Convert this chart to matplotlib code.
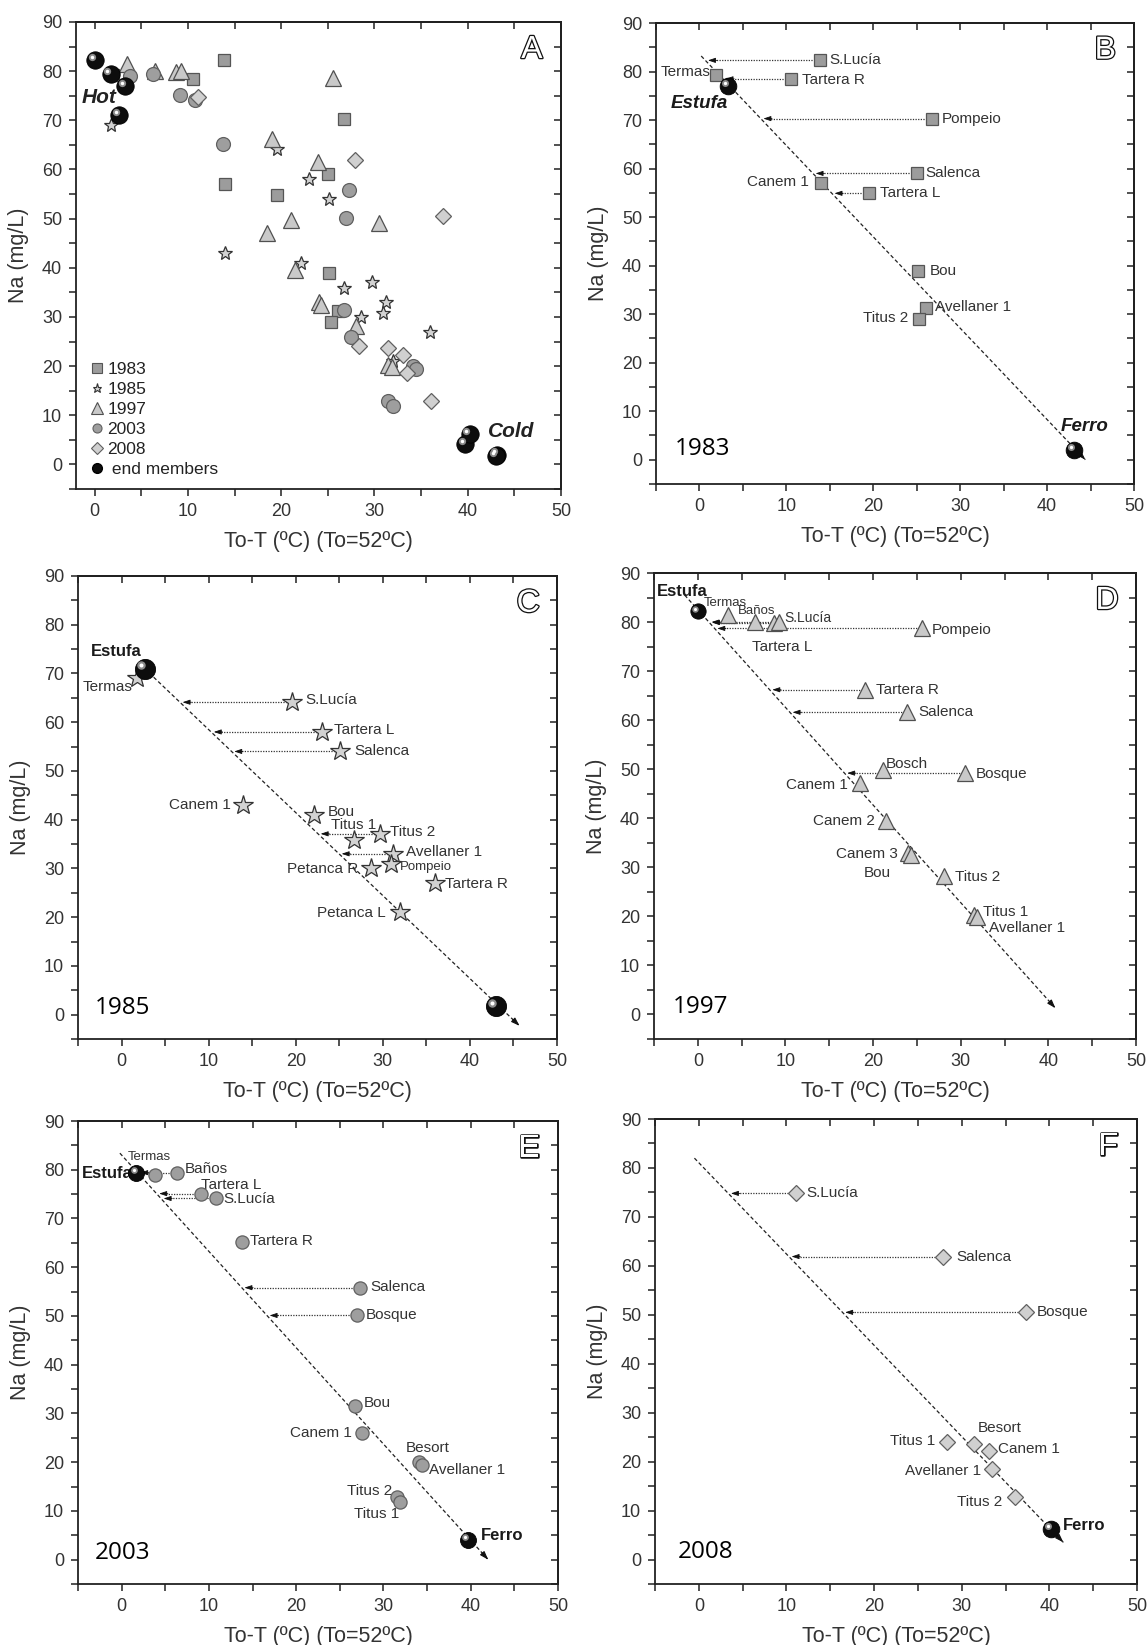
import numpy as np
import matplotlib
matplotlib.use('Agg')
import matplotlib.pyplot as plt
from matplotlib.lines import Line2D
from matplotlib.ticker import MultipleLocator
import matplotlib.patheffects as pe
from matplotlib.transforms import offset_copy

plt.rcParams['font.family'] = ['Liberation Sans', 'DejaVu Sans']

# ---------------- DATA ----------------
# 1983
names_1983 = ['S.Lucía', 'Termas', 'Tartera R', 'Pompeio', 'Salenca', 'Canem 1',
              'Tartera L', 'Bou', 'Avellaner 1', 'Titus 2']
t_1983 = [13.9, 1.95, 10.5, 26.7, 25.0, 14.0, 19.5, 25.1, 26.1, 25.3]
na_1983 = [82.3, 79.2, 78.5, 70.3, 59.0, 57.1, 54.9, 38.9, 31.3, 29.0]
arrows_1983 = ['S.Lucía', 'Tartera R', 'Pompeio', 'Salenca', 'Tartera L']

# 1985
names_1985 = ['Termas', 'S.Lucía', 'Tartera L', 'Salenca', 'Canem 1', 'Bou', 'Titus 1',
              'Titus 2', 'Avellaner 1', 'Pompeio', 'Petanca R', 'Tartera R', 'Petanca L']
t_1985 = [1.8, 19.6, 23.0, 25.1, 13.95, 22.1, 26.7, 29.7, 31.2, 30.9, 28.6, 36.0, 32.0]
na_1985 = [69.1, 64.1, 58.0, 54.0, 43.0, 41.0, 35.9, 37.1, 33.0, 30.9, 30.0, 27.0, 21.0]
arrows_1985 = ['S.Lucía', 'Tartera L', 'Salenca', 'Titus 2', 'Avellaner 1']

# 1997
names_1997 = ['Termas', 'Baños', 'Tartera L', 'S.Lucía', 'Pompeio', 'Tartera R', 'Salenca',
              'Bosch', 'Bosque', 'Canem 1', 'Canem 2', 'Canem 3', 'Bou', 'Titus 2',
              'Titus 1', 'Avellaner 1']
t_1997 = [3.45, 6.5, 8.7, 9.3, 25.6, 19.05, 23.9, 21.1, 30.5, 18.45, 21.5, 24.0, 24.3,
          28.05, 31.5, 31.9]
na_1997 = [81.5, 80.0, 79.9, 80.0, 78.7, 66.2, 61.6, 49.8, 49.2, 47.1, 39.5, 33.0, 32.5,
           28.2, 20.2, 19.8]
arrows_1997 = ['Tartera L', 'S.Lucía', 'Pompeio', 'Tartera R', 'Salenca', 'Bosque']

# 2003
names_2003 = ['Termas', 'Baños', 'Tartera L', 'S.Lucía', 'Tartera R', 'Salenca', 'Bosque',
              'Bou', 'Canem 1', 'Besort', 'Avellaner 1', 'Titus 2', 'Titus 1']
t_2003 = [3.8, 6.3, 9.1, 10.8, 13.8, 27.3, 27.0, 26.7, 27.5, 34.1, 34.4, 31.5, 31.95]
na_2003 = [79.0, 79.4, 75.1, 74.1, 65.2, 55.8, 50.1, 31.5, 26.0, 20.0, 19.5, 12.8, 11.9]
arrows_2003 = ['Baños', 'Tartera L', 'S.Lucía', 'Salenca', 'Bosque']

# 2008
names_2008 = ['S.Lucía', 'Salenca', 'Bosque', 'Titus 1', 'Besort', 'Canem 1',
              'Avellaner 1', 'Titus 2']
t_2008 = [11.05, 27.9, 37.3, 28.3, 31.4, 33.1, 33.5, 36.1]
na_2008 = [74.8, 61.9, 50.5, 24.1, 23.6, 22.2, 18.5, 12.8]
arrows_2008 = ['S.Lucía', 'Salenca', 'Bosque']

# End members (hot: Estufa, cold: Ferro)
em_names_1983 = ['Estufa', 'Ferro']; em_t_1983 = [3.25, 43.1]; em_na_1983 = [77.0, 2.0]
em_names_1985 = ['Estufa', 'Ferro']; em_t_1985 = [2.65, 43.0]; em_na_1985 = [71.0, 1.7]
em_names_1997 = ['Estufa'];          em_t_1997 = [0.0];         em_na_1997 = [82.2]
em_names_2003 = ['Estufa', 'Ferro']; em_t_2003 = [1.7, 39.7];  em_na_2003 = [79.4, 4.1]
em_names_2008 = ['Ferro'];           em_t_2008 = [40.2];        em_na_2008 = [6.2]

# Mixing lines (start, end) in data units
mix_1983 = [(0.2, 83.2), (44.4, 0.0)]
mix_1985 = [(2.65, 71.0), (45.7, -2.3)]
mix_1997 = [(-1.5, 85.5), (40.8, 1.3)]
mix_2003 = [(-0.2, 83.4), (42.0, 0.0)]
mix_2008 = [(-0.5, 82.0), (41.6, 3.5)]

years = ['1983', '1985', '1997', '2003', '2008']
x_ticks = [0, 10, 20, 30, 40, 50]
y_ticks = [0, 10, 20, 30, 40, 50, 60, 70, 80, 90]

# ---------------- STYLES / LAYOUT ----------------
W, H = 1148, 1645
STY = {
    '1983': dict(marker='s', mfc='#9c9c9c', mec='#555555'),
    '1985': dict(marker='*', mfc='#d2d2d2', mec='#333333'),
    '1997': dict(marker='^', mfc='#c9c9c9', mec='#505050'),
    '2003': dict(marker='o', mfc='#9e9e9e', mec='#606060'),
    '2008': dict(marker='D', mfc='#d0d0d0', mec='#606060'),
}
MS_A = {'1983': 9, '1985': 10, '1997': 11.5, '2003': 10, '2008': 8.5}
MS_P = {'1983': 9, '1985': 15, '1997': 12, '2003': 9.5, '2008': 8.5}
SPH_P = {'1983': 12, '1985': 14.5, '1997': 11, '2003': 11.5, '2008': 12}

LAYOUT = {
    '1983': {'S.Lucía': (9, 0, 'left'), 'Termas': (-6, 3, 'right'), 'Tartera R': (11, -1, 'left'),
             'Pompeio': (10, 0, 'left'), 'Salenca': (9, 0, 'left'), 'Canem 1': (-12, 1, 'right'),
             'Tartera L': (11, 0, 'left'), 'Bou': (12, 0, 'left'), 'Avellaner 1': (9, 1, 'left'),
             'Titus 2': (-11, 1, 'right')},
    '1985': {'Termas': (-5, -9, 'right'), 'S.Lucía': (13, 2, 'left'), 'Tartera L': (12, 2, 'left'),
             'Salenca': (14, 0, 'left'), 'Canem 1': (-12, 0, 'right'), 'Bou': (14, 3, 'left'),
             'Titus 1': (0, 15, 'center'), 'Titus 2': (10, 2, 'left'), 'Avellaner 1': (13, 2, 'left'),
             'Pompeio': (9, -3, 'left', 9.5), 'Petanca R': (-12, -1, 'right'),
             'Tartera R': (10, -1, 'left'), 'Petanca L': (-14, -1, 'right')},
    '1997': {'Termas': (-24, 12, 'left', 9.5), 'Baños': (-17, 11, 'left', 9.5),
             'S.Lucía': (5, 4, 'left', 10), 'Tartera L': (-22, -24, 'left'),
             'Pompeio': (10, -2, 'left'), 'Tartera R': (11, 0, 'left'), 'Salenca': (11, 0, 'left'),
             'Bosch': (3, 6, 'left'), 'Bosque': (11, -1, 'left'), 'Canem 1': (-12, -2, 'right'),
             'Canem 2': (-11, 0, 'right'), 'Canem 3': (-10, -1, 'right'), 'Bou': (-20, -18, 'right'),
             'Titus 2': (11, -1, 'left'), 'Titus 1': (9, 3, 'left'), 'Avellaner 1': (12, -11, 'left')},
    '2003': {'Termas': (-27, 18, 'left', 9.5), 'Baños': (8, 4, 'left'), 'Tartera L': (0, 9, 'left'),
             'S.Lucía': (7, -1, 'left'), 'Tartera R': (8, 1, 'left'), 'Salenca': (10, 1, 'left'),
             'Bosque': (8, 0, 'left'), 'Bou': (9, 3, 'left'), 'Canem 1': (-10, 0, 'right'),
             'Besort': (8, 14, 'center'), 'Avellaner 1': (7, -5, 'left'),
             'Titus 2': (-4, 6, 'right'), 'Titus 1': (-1, -12, 'right')},
    '2008': {'S.Lucía': (11, 0, 'left'), 'Salenca': (13, 0, 'left'), 'Bosque': (11, 0, 'left'),
             'Titus 1': (-12, 1, 'right'), 'Besort': (26, 16, 'center'), 'Canem 1': (9, 2, 'left'),
             'Avellaner 1': (-11, -2, 'right'), 'Titus 2': (-13, -5, 'right')},
}
EM_LAYOUT = {
    '1983': {'Estufa': (0, -17, 'right', 'italic'), 'Ferro': (11, 24, 'center', 'italic')},
    '1985': {'Estufa': (-3, 17, 'right', 'normal')},
    '1997': {'Estufa': (-16, 20, 'center', 'normal')},
    '2003': {'Estufa': (-4, -1, 'right', 'normal'), 'Ferro': (13, 4, 'left', 'normal')},
    '2008': {'Ferro': (12, 4, 'left', 'normal')},
}
PANELS = {  # pixel boxes l, t, r, b
    'A': (76, 22, 561, 489), '1983': (656, 23, 1134, 484),
    '1985': (78, 576, 557, 1039), '1997': (654, 573, 1136, 1039),
    '2003': (78, 1121, 558, 1584), '2008': (655, 1119, 1137, 1584),
}
LETTERS = {'A': 'A', '1983': 'B', '1985': 'C', '1997': 'D', '2003': 'E', '2008': 'F'}
YEARPOS = {'1983': (0.04, 0.075), '1985': (0.035, 0.067), '1997': (0.04, 0.069),
           '2003': (0.035, 0.067), '2008': (0.048, 0.069)}

DATA = {
    '1983': (names_1983, t_1983, na_1983, arrows_1983, em_names_1983, em_t_1983, em_na_1983, mix_1983),
    '1985': (names_1985, t_1985, na_1985, arrows_1985, em_names_1985, em_t_1985, em_na_1985, mix_1985),
    '1997': (names_1997, t_1997, na_1997, arrows_1997, em_names_1997, em_t_1997, em_na_1997, mix_1997),
    '2003': (names_2003, t_2003, na_2003, arrows_2003, em_names_2003, em_t_2003, em_na_2003, mix_2003),
    '2008': (names_2008, t_2008, na_2008, arrows_2008, em_names_2008, em_t_2008, em_na_2008, mix_2008),
}

fig = plt.figure(figsize=(W / 100, H / 100), dpi=100)


def make_ax(key):
    l, t, r, b = PANELS[key]
    return fig.add_axes([l / W, 1 - b / H, (r - l) / W, (b - t) / H])


def style_axes(ax, xlim):
    ax.set_xlim(*xlim)
    ax.set_ylim(-5, 90)
    ax.set_xticks(x_ticks)
    ax.set_yticks(y_ticks)
    ax.xaxis.set_minor_locator(MultipleLocator(5))
    ax.yaxis.set_minor_locator(MultipleLocator(5))
    ax.tick_params(which='both', direction='out', length=5, width=1.1, color='#222222',
                   labelsize=13, labelcolor='#333333')
    ax.tick_params(axis='x', which='major', pad=5)
    ax.tick_params(axis='y', which='major', pad=5)
    for s in ax.spines.values():
        s.set_linewidth(1.3)
        s.set_color('#222222')
    top = ax.secondary_xaxis('top')
    top.set_xticks(x_ticks)
    top.xaxis.set_minor_locator(MultipleLocator(5))
    top.tick_params(which='both', direction='in', length=5, width=1.1, color='#222222',
                    labeltop=False)
    top.spines['top'].set_linewidth(1.3)
    right = ax.secondary_yaxis('right')
    right.set_yticks(y_ticks)
    right.yaxis.set_minor_locator(MultipleLocator(5))
    right.tick_params(which='both', direction='in', length=5, width=1.1, color='#222222',
                      labelright=False)
    right.spines['right'].set_linewidth(1.3)
    ax.set_xlabel('To-T (ºC) (To=52ºC)', fontsize=15.5, color='#333333', labelpad=8)
    ax.set_ylabel('Na (mg/L)', fontsize=15.5, color='#333333', labelpad=9)


def sphere(ax, x, y, ms, z=6):
    ax.plot(x, y, 'o', ms=ms, mfc='#0d0d0d', mec='#000000', mew=0.6, ls='', zorder=z)
    tr = offset_copy(ax.transData, fig=fig, x=-ms * 0.18, y=ms * 0.18, units='points')
    ax.plot(x, y, 'o', ms=ms * 0.42, mfc='#8a8a8a', mec='none', ls='', transform=tr, zorder=z + 0.1)
    ax.plot(x, y, 'o', ms=ms * 0.2, mfc='white', mec='none', ls='', transform=tr, zorder=z + 0.2)


def letter(ax, ch):
    ax.text(0.94, 0.94, ch, transform=ax.transAxes, fontsize=23, color='white',
            ha='center', va='center', zorder=10,
            path_effects=[pe.withStroke(linewidth=1.8, foreground='#111111')])


def x_on_line(mix, y):
    (x0, y0), (x1, y1) = mix
    return x0 + (y - y0) * (x1 - x0) / (y1 - y0)


# ---------------- PANEL A ----------------
axA = make_ax('A')
style_axes(axA, (-2, 50))
for yr in years:
    names, t, na, arr, emn, emt, emna, mix = DATA[yr]
    axA.plot(t, na, ls='', ms=MS_A[yr], mew=0.9, zorder=5, **STY[yr])
for yr in years:
    names, t, na, arr, emn, emt, emna, mix = DATA[yr]
    sphere(axA, emt, emna, 12.5)
axA.text(-1.4, 74.7, 'Hot', fontsize=15, fontweight='bold', fontstyle='italic',
         color='#222222', ha='left', va='center', zorder=7)
axA.text(42.2, 6.6, 'Cold', fontsize=15, fontweight='bold', fontstyle='italic',
         color='#222222', ha='left', va='center', zorder=7)
handles = []
for yr in years:
    handles.append(Line2D([], [], ls='', ms=6.5 if yr != '1997' else 8,
                          mew=0.8, **STY[yr]))
handles.append(Line2D([], [], ls='', marker='o', ms=7, mfc='#0d0d0d', mec='#000000'))
leg = axA.legend(handles, years + [' end members'], loc='lower left',
                 bbox_to_anchor=(0.0, -0.004), frameon=False, fontsize=12.5,
                 handlelength=0.8, handletextpad=0.2, labelspacing=0.28, borderpad=0.3)
for tx in leg.get_texts():
    tx.set_color('#222222')
letter(axA, 'A')

# ---------------- PANELS B-F ----------------
for yr in years:
    names, t, na, arr, emn, emt, emna, mix = DATA[yr]
    ax = make_ax(yr)
    style_axes(ax, (-5, 50))
    # mixing line
    (xs, ys), (xe, ye) = mix
    ax.plot([xs, xe], [ys, ye], ls=(0, (3, 2)), lw=0.9, color='#222222', zorder=2)
    dx, dy = xe - xs, ye - ys
    ln = np.hypot(dx, dy)
    ax.annotate('', xy=(xe, ye), xytext=(xe - dx / ln * 1.5, ye - dy / ln * 1.5),
                arrowprops=dict(arrowstyle='-|>,head_length=0.5,head_width=0.17',
                                color='#111111', lw=0.8, shrinkA=0, shrinkB=0), zorder=2)
    # horizontal arrows
    for nm in arr:
        i = names.index(nm)
        xt = x_on_line(mix, na[i]) + 0.3
        ax.plot([t[i], xt + 0.8], [na[i], na[i]], ls=(0, (1, 1.1)), lw=0.9,
                color='#333333', zorder=2)
        ax.annotate('', xy=(xt, na[i]), xytext=(xt + 1.0, na[i]),
                    arrowprops=dict(arrowstyle='-|>,head_length=0.45,head_width=0.15',
                                    color='#111111', lw=0.6, shrinkA=0, shrinkB=0), zorder=2)
    # markers
    ax.plot(t, na, ls='', ms=MS_P[yr], mew=0.9, zorder=5, **STY[yr])
    # labels
    for i, nm in enumerate(names):
        spec = LAYOUT[yr][nm]
        fs = spec[3] if len(spec) > 3 else 11
        ax.annotate(nm, xy=(t[i], na[i]), xytext=(spec[0], spec[1]), textcoords='offset pixels',
                    ha=spec[2], va='center', fontsize=fs, color='#333333', zorder=4)
    # end members
    sphere(ax, emt, emna, SPH_P[yr])
    for i, nm in enumerate(emn):
        if nm in EM_LAYOUT[yr]:
            ox, oy, ha, st = EM_LAYOUT[yr][nm]
            fsz = 13.5 if st == 'italic' else 12
            ax.annotate(nm, xy=(emt[i], emna[i]), xytext=(ox, oy), textcoords='offset pixels',
                        ha=ha, va='center', fontsize=fsz, fontweight='bold', fontstyle=st,
                        color='#1a1a1a', zorder=5.5)
    # year label and letter
    ax.text(YEARPOS[yr][0], YEARPOS[yr][1], yr, transform=ax.transAxes, fontsize=17.5,
            family=['Open Sans', 'DejaVu Sans'], ha='left', va='center', color='black', zorder=8)
    letter(ax, LETTERS[yr])

fig.savefig('out.png', dpi=100)
